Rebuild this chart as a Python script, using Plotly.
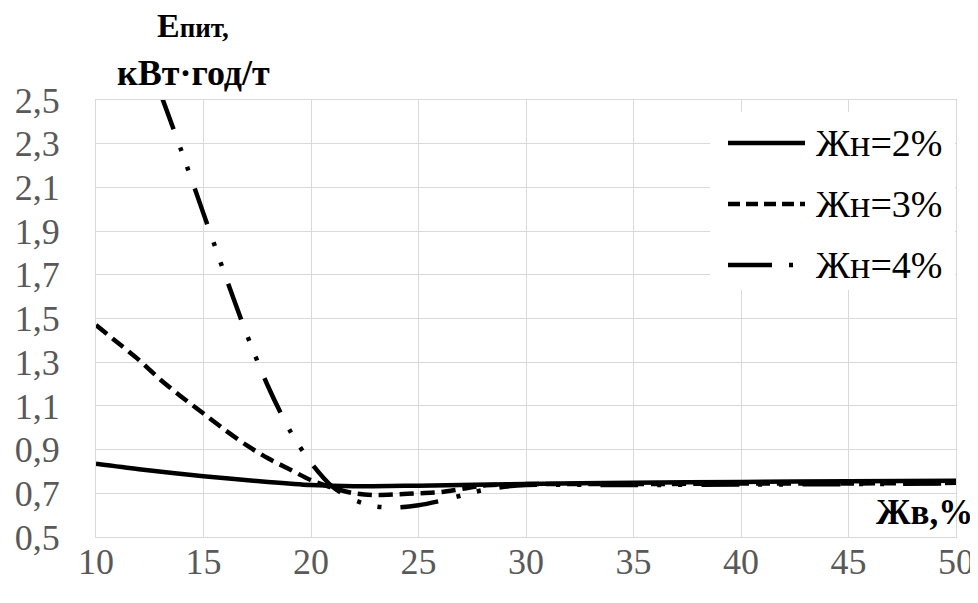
import plotly.graph_objects as go

# ---- data ----
series_names = ["Жн=2%", "Жн=3%", "Жн=4%"]

x_2 = [10, 12, 15, 18, 20, 22, 25, 30, 35, 40, 45, 50]
y_2 = [0.835, 0.81, 0.778, 0.752, 0.738, 0.732, 0.735, 0.743, 0.748, 0.752, 0.755, 0.758]

x_3 = [10, 11, 12, 13, 14, 15, 16, 17, 18, 19, 20, 21, 22, 23, 24, 25, 26, 27, 28, 30, 35, 40, 45, 50]
y_3 = [1.47, 1.39, 1.31, 1.22, 1.14, 1.065, 0.99, 0.92, 0.86, 0.81, 0.76, 0.725, 0.70, 0.692, 0.695,
       0.70, 0.705, 0.72, 0.735, 0.742, 0.742, 0.745, 0.745, 0.748]

x_4 = [13, 14, 15, 16, 17, 18, 19, 20, 21, 22, 23, 24, 25, 26, 27, 28, 29, 30, 35, 40, 45, 50]
y_4 = [2.53, 2.26, 1.98, 1.70, 1.43, 1.19, 0.99, 0.84, 0.73, 0.67, 0.64, 0.635, 0.645, 0.665,
       0.69, 0.715, 0.73, 0.738, 0.738, 0.74, 0.742, 0.745]

x_ticks = [10, 15, 20, 25, 30, 35, 40, 45, 50]
y_ticks = [0.5, 0.7, 0.9, 1.1, 1.3, 1.5, 1.7, 1.9, 2.1, 2.3, 2.5]

y_title_main = "Е"
y_title_sub = "пит,"
y_title_unit = "кВт·год/т"
x_title = "Жв,%"

# ---- styles ----
FONT = "Liberation Serif, Times New Roman, serif"
GRID = "#d9d9d9"
dashes = ["solid", "14px,7px", "38px,19px,4px,17px,4px,19px"]
legend_dashes = ["solid", "12px,6px", "44px,17px,4px,200px"]
LW = 4.5

# the page body has an 8px margin, so the figure is drawn 8px in from the corner
OFF = 8
W, H = 978 - OFF, 603 - OFF
PL, PR, PT, PB = 96, 956, 100, 537          # plot area edges in page pixels
L, R, T, B = PL - OFF, W - (PR - OFF), PT - OFF, H - (PB - OFF)
PW, PH = W - L - R, H - T - B


def px_x(p):
    return (p - PL) / PW


def px_y(p):
    return (PB - p) / PH


fig = go.Figure()
for xs, ys, name, d in zip([x_2, x_3, x_4], [y_2, y_3, y_4], series_names, dashes):
    fig.add_trace(go.Scatter(
        x=xs, y=ys, name=name, mode="lines",
        line=dict(color="black", width=LW, dash=d, shape="spline", smoothing=0.8),
        showlegend=False,
    ))

axis_common = dict(
    showgrid=True, gridcolor=GRID, gridwidth=1,
    showline=True, linecolor=GRID, linewidth=1, mirror=True,
    zeroline=False, automargin=False,
    tickfont=dict(family=FONT, size=36, color="#595959"),
    ticks="outside", tickcolor="rgba(0,0,0,0)",
)

fig.update_xaxes(range=[10, 50], tickvals=x_ticks, ticklen=0, ticklabelstandoff=-7, **axis_common)
fig.update_yaxes(range=[0.5, 2.5], tickvals=y_ticks, tickformat=".1f", ticklen=28, **axis_common)

# custom legend (white box + sample lines + labels)
shapes = [dict(type="rect", xref="paper", yref="paper",
               x0=px_x(710), x1=px_x(955), y0=px_y(290), y1=px_y(112),
               fillcolor="white", line=dict(width=0), layer="above")]
leg_y = [143, 204, 265]
annotations = []
for name, ly, d in zip(series_names, leg_y, legend_dashes):
    shapes.append(dict(type="line", xref="paper", yref="paper",
                       x0=px_x(728), x1=px_x(805), y0=px_y(ly), y1=px_y(ly),
                       line=dict(color="black", width=LW, dash=d), layer="above"))
    annotations.append(dict(text=name, xref="paper", yref="paper",
                            x=px_x(814), y=px_y(ly), xanchor="left", yanchor="middle",
                            showarrow=False,
                            font=dict(family=FONT, size=38, color="black")))

# axis titles
annotations.append(dict(
    text=f"<b>{y_title_main}<span style='font-size:27px'>{y_title_sub}</span></b>",
    xref="paper", yref="paper", x=px_x(193), y=px_y(25),
    xanchor="center", yanchor="middle", showarrow=False,
    font=dict(family=FONT, size=34, color="black")))
annotations.append(dict(
    text=f"<b>{y_title_unit}</b>",
    xref="paper", yref="paper", x=px_x(193), y=px_y(73),
    xanchor="center", yanchor="middle", showarrow=False,
    font=dict(family=FONT, size=36, color="black")))
annotations.append(dict(
    text=f"<b>{x_title}</b>",
    xref="paper", yref="paper", x=px_x(975), y=px_y(512),
    xanchor="right", yanchor="middle", showarrow=False,
    font=dict(family=FONT, size=35, color="black")))

fig.update_layout(
    width=W, height=H,
    margin=dict(l=L, r=R, t=T, b=B),
    paper_bgcolor="white", plot_bgcolor="white",
    separators=", ",
    shapes=shapes, annotations=annotations,
    showlegend=False,
)

fig.write_html("out.html")
